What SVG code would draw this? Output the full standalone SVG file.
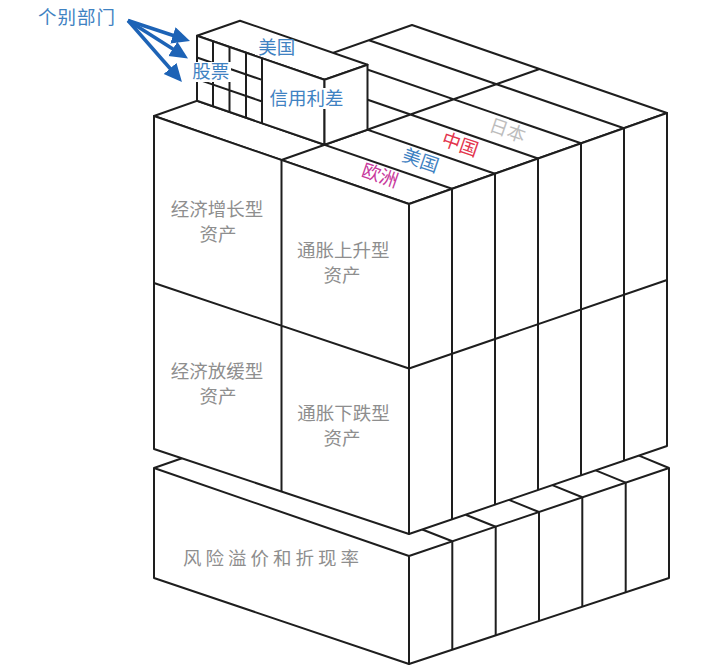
<svg xmlns="http://www.w3.org/2000/svg" width="719" height="672" viewBox="0 0 719 672">
<defs>
<style>
.ln{stroke:#1e1e1e;stroke-width:2;fill:none;stroke-linejoin:round}
.face{stroke:#1e1e1e;stroke-width:2;fill:#fff;stroke-linejoin:round}
text{font-family:"Liberation Sans","Noto Sans CJK SC",sans-serif;font-size:18.5px;text-anchor:middle;dominant-baseline:central}
.gray{fill:#8e8e8e}
.blue{fill:#3f82c2}
.red{fill:#e3344c}
.mag{fill:#c8399c}
.lgray{fill:#bdbdbd}
.arrow{stroke:#1d63b6;stroke-width:3.5;fill:none}
</style>
<marker id="ah" markerUnits="userSpaceOnUse" markerWidth="20" markerHeight="18" refX="2" refY="8.5" orient="auto">
<path d="M0,0 L18,8.5 L0,17 z" fill="#1d63b6"/>
</marker>
</defs>
<rect width="719" height="672" fill="#fff"/>

<g id="slab">
<polygon class="face" points="154,468 409,556 409,664 154,578"/>
<polygon class="face" points="409,556 669,468 669,578 409,664"/>
<path class="ln" d="M452.3,541.3V649.7M495.7,526.7V635.3M539,512V621M582.3,497.3V606.7M625.7,482.7V592.3"/>
<path class="ln" d="M154,468L182,458.3M452.3,541.3L422.3,529.5M495.7,526.7L465.7,514.7M539,512L509,499.9M582.3,497.3L552.3,485.1M625.7,482.7L595.7,470.3M669,468L639,455.6"/>
<text class="gray" x="273" y="558.5" style="letter-spacing:4px">风险溢价和折现率</text>
</g>

<g id="cube">
<polygon class="face" points="154,116 412,25 667,113 409,204"/>
<polygon class="face" points="154,116 409,204 409,534 154,449"/>
<polygon class="face" points="409,204 667,113 667,446 409,534"/>
<path class="ln" d="M281.5,160V491.5M154,283L409,368.5L667,280"/>
<path class="ln" d="M452,188.8V519.3M495,173.7V504.7M538,158.5V490M581,143.3V475.3M624,128.2V460.7"/>
<path class="ln" d="M197,100.8L452,188.8M240,85.7L495,173.7M283,70.5L538,158.5M326,55.3L581,143.3M369,40.2L624,128.2M281.5,160L539.5,69"/>
</g>

<g id="box">
<polygon class="face" points="197,35.8 240,20.7 367.5,64.7 324.5,79.8"/>
<polygon class="face" points="197,35.8 324.5,79.8 324.5,144.8 197,100.8"/>
<polygon class="face" points="324.5,79.8 367.5,64.7 367.5,129.7 324.5,144.8"/>
<path class="ln" d="M213,41.3V106.3M229.5,47V112M246,52.7V117.7M262,58.2V123.2M197,57.5L262,79.9M197,79.1L262,101.5"/>
<rect x="191" y="62" width="40" height="20" fill="#fff"/>
<rect x="268" y="88" width="77" height="21" fill="#fff"/>
<text class="blue" x="276.7" y="47.5">美国</text>
<text class="blue" x="210.8" y="71.7">股票</text>
<text class="blue" x="306.5" y="98">信用利差</text>
</g>

<g id="cell-growth"><text class="gray" x="217" y="209.3">经济增长型</text><text class="gray" x="218" y="234">资产</text></g>
<g id="cell-inflation-up"><text class="gray" x="343.3" y="250">通胀上升型</text><text class="gray" x="342" y="275">资产</text></g>
<g id="cell-slowdown"><text class="gray" x="217" y="371.7">经济放缓型</text><text class="gray" x="218" y="396.7">资产</text></g>
<g id="cell-inflation-down"><text class="gray" x="343.5" y="413.3">通胀下跌型</text><text class="gray" x="342" y="438.3">资产</text></g>

<g id="regions">
<text class="lgray" transform="translate(507.5,130.5) rotate(19)">日本</text>
<text class="red" transform="translate(460,144.5) rotate(19)">中国</text>
<text class="blue" transform="translate(420.5,160.5) rotate(19)">美国</text>
<text class="mag" transform="translate(380,175.5) rotate(19)">欧洲</text>
</g>

<g id="label-sectors"><text class="blue" x="77" y="17" style="letter-spacing:1px">个别部门</text></g>

<g id="connectors">
<path class="arrow" d="M128,20.5L174.8,36" marker-end="url(#ah)"/>
<path class="arrow" d="M128,20.5L174.5,49.9" marker-end="url(#ah)"/>
<path class="arrow" d="M128,20.5L171.4,70" marker-end="url(#ah)"/>
</g>
</svg>
